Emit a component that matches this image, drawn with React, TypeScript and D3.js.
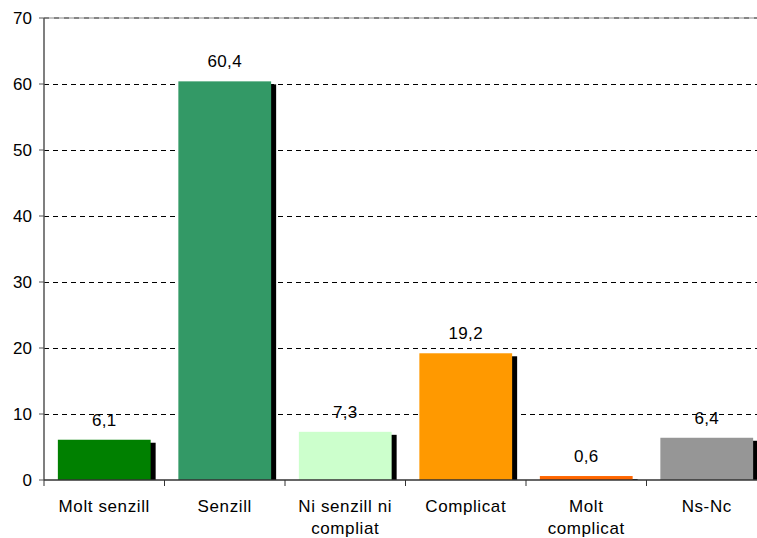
import React from "react";
import * as d3 from "d3";

const categories: string[][] = [
  ["Molt senzill"],
  ["Senzill"],
  ["Ni senzill ni", "compliat"],
  ["Complicat"],
  ["Molt", "complicat"],
  ["Ns-Nc"],
];
const values: number[] = [6.1, 60.4, 7.3, 19.2, 0.6, 6.4];
const valueLabels: string[] = ["6,1", "60,4", "7,3", "19,2", "0,6", "6,4"];
const colors: string[] = ["#008000", "#339966", "#CCFFCC", "#FF9900", "#FF6600", "#969696"];
const yTicks: number[] = [0, 10, 20, 30, 40, 50, 60, 70];

const W = 757;
const H = 538;
const left = 44;
const right = 767;
const top = 18;
const bottom = 480;
const FONT = "'Liberation Sans', Arial, sans-serif";
const FS = 17;

export default function App() {
  const keys = categories.map((c) => c.join(" "));
  const x = d3
    .scaleBand<string>()
    .domain(keys)
    .range([left, right])
    .paddingInner(0.23)
    .paddingOuter(0.115);
  const y = d3.scaleLinear().domain([0, 70]).range([bottom, top]);
  const step = x.step();
  const bw = x.bandwidth();

  return (
    <svg
      width={W}
      height={H}
      style={{ position: "absolute", left: 0, top: 0, background: "#fff" }}
      fontFamily={FONT}
    >
      {/* gridlines */}
      {yTicks.filter((t) => t > 0).map((t) =>
        t === 70 ? (
          <g key={t}>
            <line x1={left} x2={W} y1={y(t)} y2={y(t)} stroke="#b0b0b0" strokeWidth={1.5} />
            <line x1={left} x2={W} y1={y(t)} y2={y(t)} stroke="#707070" strokeWidth={1.5} strokeDasharray="5,5" />
          </g>
        ) : (
          <line
            key={t}
            x1={left}
            x2={W}
            y1={y(t) + 0.5}
            y2={y(t) + 0.5}
            stroke="#000"
            strokeWidth={1}
            strokeDasharray="5,4"
          />
        )
      )}
      {/* bars */}
      {values.map((v, i) => {
        const bx = x(keys[i])!;
        return (
          <g key={i}>
            <rect x={bx + 5} y={y(v) + 3} width={bw} height={bottom - y(v) - 3} fill="#000" />
            <rect x={bx} y={y(v)} width={bw} height={bottom - y(v)} fill={colors[i]} />
            <text
              x={bx + bw / 2}
              y={y(v) - 14}
              textAnchor="middle"
              fontSize={FS}
              letterSpacing={0.3}
              fill="#000"
            >
              {valueLabels[i]}
            </text>
          </g>
        );
      })}
      {/* y axis */}
      <line x1={left} x2={left} y1={top} y2={bottom} stroke="#555" strokeWidth={1.5} />
      {yTicks.map((t) => (
        <g key={t}>
          <line x1={left - 5} x2={left} y1={y(t)} y2={y(t)} stroke="#555" strokeWidth={1} />
          <text x={32} y={y(t) + 6} textAnchor="end" fontSize={FS} fill="#000">
            {t}
          </text>
        </g>
      ))}
      {/* x axis */}
      <line x1={left} x2={W} y1={bottom} y2={bottom} stroke="#333" strokeWidth={1.5} />
      {d3.range(0, categories.length + 1).map((i) => (
        <line
          key={i}
          x1={left + i * step}
          x2={left + i * step}
          y1={bottom}
          y2={bottom + 6}
          stroke="#333"
          strokeWidth={1}
        />
      ))}
      {categories.map((lines, i) => (
        <text
          key={i}
          x={x(keys[i])! + bw / 2}
          y={512}
          textAnchor="middle"
          fontSize={FS}
          letterSpacing={0.6}
          fill="#000"
        >
          {lines.map((l, j) => (
            <tspan key={j} x={x(keys[i])! + bw / 2} dy={j === 0 ? 0 : 22}>
              {l}
            </tspan>
          ))}
        </text>
      ))}
    </svg>
  );
}
